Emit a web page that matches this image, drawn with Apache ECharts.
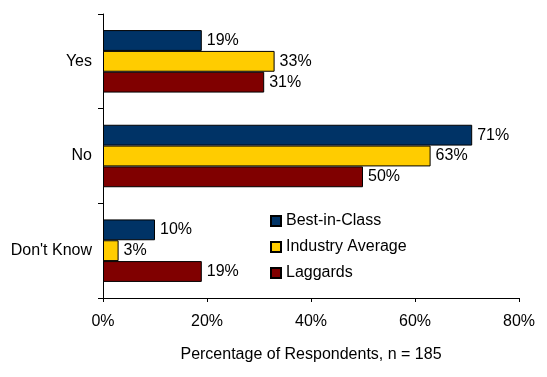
<!DOCTYPE html>
<html>
<head>
<meta charset="utf-8">
<script src="https://cdn.jsdelivr.net/npm/echarts@6/dist/echarts.min.js"></script>
<style>
  html, body { margin: 0; padding: 0; background: #fff; }
  #chart { width: 547px; height: 377px; }
</style>
</head>
<body>
<div id="chart"></div>
<script>
// categories and values
const categories = ['Yes', 'No', "Don't Know"];
const bestInClass = [19, 71, 10];
const industryAverage = [33, 63, 3];
const laggards = [31, 50, 19];
const xTicks = [0, 20, 40, 60, 80];

const font = 'Arial, "Liberation Sans", sans-serif';
const fs = 16;

function mkSeries(name, data, color) {
	return {
		name: name,
		type: 'bar',
		data: data,
		barGap: '0%',
		barCategoryGap: '34%',
		itemStyle: { color: color, borderColor: '#000', borderWidth: 1 },
		label: {
			show: true,
			position: 'right',
			distance: 5,
			formatter: '{c}%',
			color: '#000',
			fontSize: fs,
			fontFamily: font
		}
	};
}

const chart = echarts.init(document.getElementById('chart'));
chart.setOption({
	animation: false,
	textStyle: { fontFamily: font },
	grid: { left: 103, right: 28, top: 14, bottom: 79 },
	legend: {
		orient: 'vertical',
		left: 265,
		top: 208,
		itemWidth: 10,
		itemHeight: 10,
		itemGap: 10,
		icon: 'rect',
		textStyle: { fontSize: fs, color: '#000', fontFamily: font },
		data: ['Best-in-Class', 'Industry Average', 'Laggards']
	},
	xAxis: {
		type: 'value',
		min: xTicks[0],
		max: xTicks[xTicks.length - 1],
		interval: 20,
		name: 'Percentage of Respondents, n = 185',
		nameLocation: 'middle',
		nameGap: 49,
		nameTextStyle: { fontSize: fs, color: '#000', fontFamily: font },
		axisLine: { show: true, lineStyle: { color: '#000' } },
		axisTick: { show: true, length: 4, lineStyle: { color: '#000' } },
		axisLabel: { formatter: '{value}%', fontSize: fs, color: '#000', margin: 16 },
		splitLine: { show: false }
	},
	yAxis: {
		type: 'category',
		inverse: true,
		data: categories,
		axisLine: { show: true, lineStyle: { color: '#000' } },
		axisTick: { show: true, length: 5, lineStyle: { color: '#000' } },
		axisLabel: { fontSize: fs, color: '#000', margin: 11 }
	},
	series: [
		mkSeries('Best-in-Class', bestInClass, '#003366'),
		mkSeries('Industry Average', industryAverage, '#FFCC00'),
		mkSeries('Laggards', laggards, '#800000')
	]
});
</script>
</body>
</html>
